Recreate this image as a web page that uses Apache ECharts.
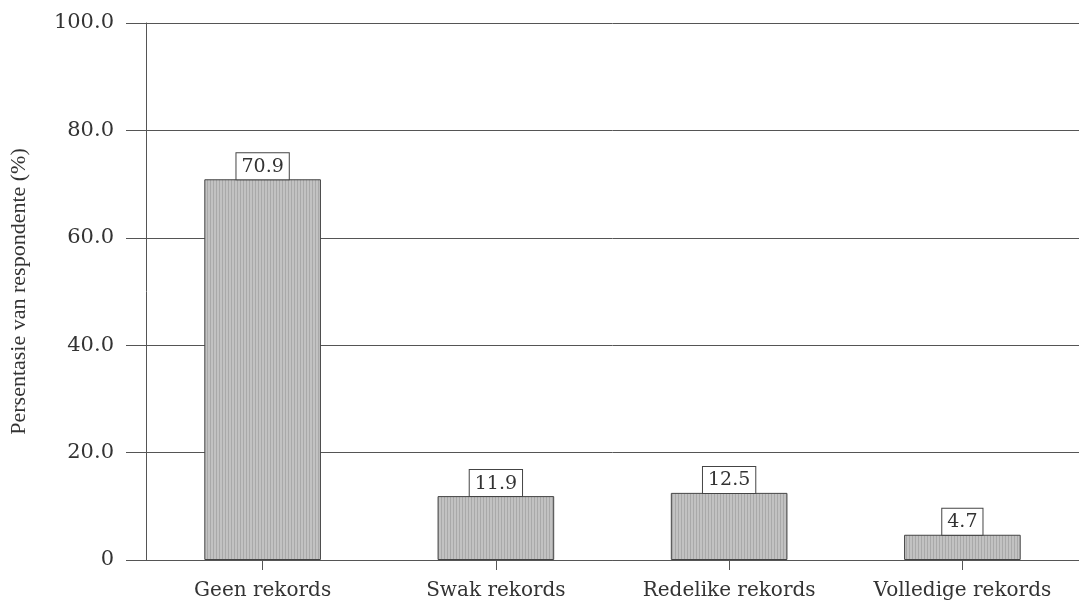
<!DOCTYPE html>
<html>
<head>
<meta charset="utf-8">
<script src="https://cdn.jsdelivr.net/npm/echarts@6/dist/echarts.min.js"></script>
<style>
  html, body { margin: 0; padding: 0; background: #ffffff; }
  #chart { width: 1079px; height: 603px; }
</style>
</head>
<body>
<div id="chart"></div>
<script>
// Record-keeping categories and share of respondents (%)
const categories = ['Geen rekords', 'Swak rekords', 'Redelike rekords', 'Volledige rekords'];
const percentages = [70.9, 11.9, 12.5, 4.7];
const yTicks = [0, 20, 40, 60, 80, 100];

// Fine vertical hatching for the bar fill
function hatchPattern() {
  const c = document.createElement('canvas');
  c.width = 3; c.height = 4;
  const ctx = c.getContext('2d');
  ctx.fillStyle = '#c2c2c2';
  ctx.fillRect(0, 0, 3, 4);
  ctx.fillStyle = '#a9a9a9';
  ctx.fillRect(0, 0, 1, 4);
  return c;
}

const serif = '"DejaVu Serif", "Liberation Serif", serif';
const chart = echarts.init(document.getElementById('chart'));
chart.setOption({
  backgroundColor: '#ffffff',
  animation: false,
  grid: { left: 145, right: 0, top: 23, bottom: 43 },
  xAxis: {
    type: 'category',
    data: categories,
    axisLine: { show: true, lineStyle: { color: '#555', width: 1 } },
    axisTick: { show: true, alignWithLabel: true, length: 10, lineStyle: { color: '#555' } },
    axisLabel: { interval: 0, color: '#333', fontFamily: serif, fontSize: 20, margin: 21 }
  },
  yAxis: {
    type: 'value',
    min: yTicks[0],
    max: yTicks[yTicks.length - 1],
    interval: 20,
    name: 'Persentasie van respondente (%)',
    nameLocation: 'middle',
    nameGap: 116,
    nameRotate: 90,
    nameTextStyle: { color: '#333', fontFamily: '"Liberation Serif", serif', fontSize: 22 },
    axisLine: { show: true, lineStyle: { color: '#555', width: 1 } },
    axisTick: { show: true, length: 20, lineStyle: { color: '#555' } },
    axisLabel: {
      color: '#333', fontFamily: serif, fontSize: 21, margin: 32,
      formatter: v => (v === 0 ? '0' : v.toFixed(1))
    },
    splitLine: { show: true, lineStyle: { color: '#555', width: 1 } }
  },
  series: [{
    type: 'bar',
    data: percentages,
    barWidth: '50%',
    itemStyle: {
      color: { image: hatchPattern(), repeat: 'repeat' },
      borderColor: '#444',
      borderWidth: 1
    },
    label: {
      show: true,
      position: 'top',
      distance: 0,
      formatter: p => p.value.toFixed(1),
      color: '#333',
      fontFamily: serif,
      fontSize: 19,
      backgroundColor: '#ffffff',
      borderColor: '#444',
      borderWidth: 1,
      padding: [4, 5, 3, 5]
    }
  }]
});
</script>
</body>
</html>
